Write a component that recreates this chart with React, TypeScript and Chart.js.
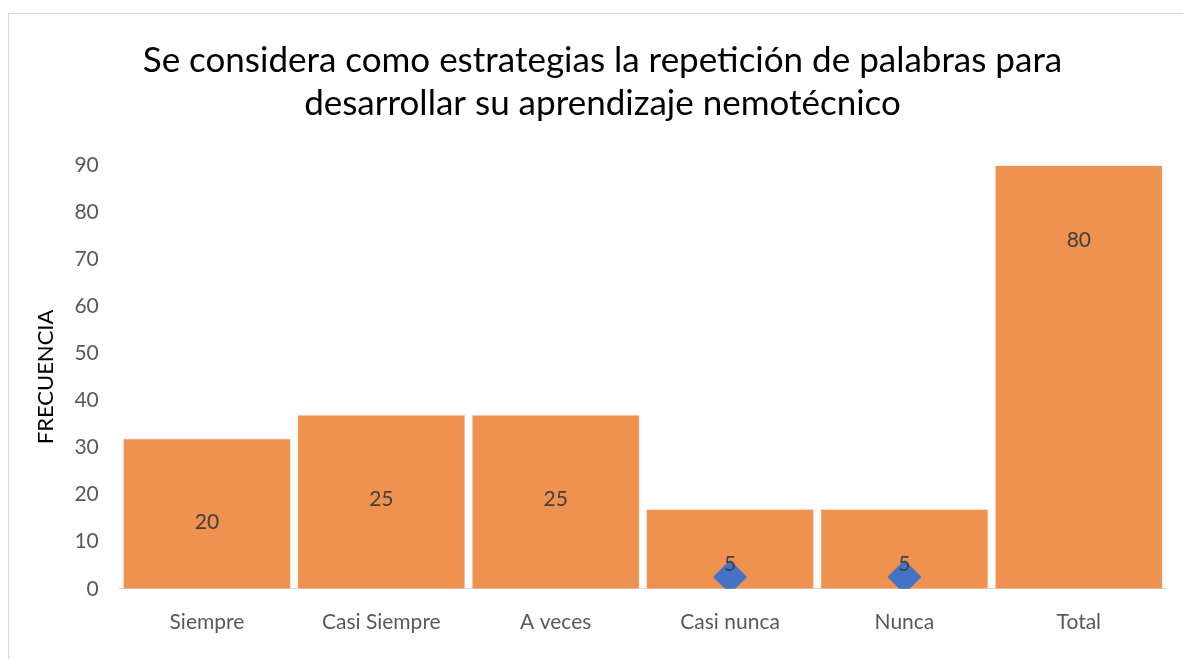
import React, { useEffect, useRef } from 'react';
import Chart from 'chart.js/auto';

const TITLE_LINES = [
  'Se considera como estrategias la repetición de palabras para',
  'desarrollar su aprendizaje nemotécnico',
];
const CATEGORIES = ['Siempre', 'Casi Siempre', 'A veces', 'Casi nunca', 'Nunca', 'Total'];
const BAR_VALUES = [32, 37, 37, 17, 17, 90];
const LABEL_VALUES = [20, 25, 25, 5, 5, 80];
const MARKER_VALUES = [null, null, null, 2.5, 2.5, null];
const Y_AXIS_TITLE = 'FRECUENCIA';
const Y_MAX = 90;
const Y_STEP = 10;

const FONT = 'Lato, "Open Sans", sans-serif';

const labelPlugin = {
  id: 'valueLabels',
  afterDatasetsDraw(chart: any) {
    const { ctx, scales } = chart;
    const xs = scales.x;
    const ys = scales.y;
    ctx.save();
    ctx.font = `21px ${FONT}`;
    ctx.fillStyle = '#404040';
    ctx.textAlign = 'center';
    ctx.textBaseline = 'middle';
    LABEL_VALUES.forEach((v, i) => {
      const x = xs.getPixelForValue(i);
      const m = MARKER_VALUES[i];
      const y = m != null ? ys.getPixelForValue(m) - 13 : ys.getPixelForValue(v) + 28;
      ctx.fillText(String(v), x, y);
    });
    ctx.restore();
  },
};

export default function App() {
  const ref = useRef<HTMLCanvasElement | null>(null);
  useEffect(() => {
    document.body.style.overflow = 'hidden';
    const chart = new Chart(ref.current as HTMLCanvasElement, {
      type: 'bar',
      data: {
        labels: CATEGORIES,
        datasets: [
          {
            type: 'line',
            data: MARKER_VALUES as any,
            showLine: false,
            pointStyle: 'rectRot',
            pointRadius: 17,
            pointBackgroundColor: '#4472C4',
            pointBorderColor: '#4472C4',
            pointBorderWidth: 0,
            order: 0,
          } as any,
          {
            type: 'bar',
            data: BAR_VALUES,
            backgroundColor: '#EF914F',
            borderColor: 'rgba(255,240,230,0.9)',
            borderWidth: 1,
            barPercentage: 0.966,
            categoryPercentage: 1,
            order: 1,
          },
        ],
      },
      options: {
        responsive: false,
        animation: false,
        layout: { padding: { left: 24, right: 11, top: 0, bottom: 3 } },
        plugins: {
          legend: { display: false },
          tooltip: { enabled: false },
          title: {
            display: true,
            text: TITLE_LINES,
            color: '#000000',
            font: { family: FONT, size: 35, weight: 'normal', lineHeight: 1.23 },
            padding: { top: 25, bottom: 40 },
          },
        },
        scales: {
          x: {
            grid: { display: false, drawTicks: false },
            border: { display: true, color: '#D9D9D9', width: 1 },
            ticks: { color: '#595959', font: { family: FONT, size: 21 }, padding: 21 },
          },
          y: {
            min: 0,
            max: Y_MAX,
            grid: { display: false, drawTicks: false },
            border: { display: false },
            ticks: { stepSize: Y_STEP, color: '#595959', font: { family: FONT, size: 21 }, padding: 21 },
            title: {
              display: true,
              text: Y_AXIS_TITLE,
              color: '#000000',
              font: { family: FONT, size: 22 },
              padding: { top: 0, bottom: -6 },
            },
          },
        },
      },
      plugins: [labelPlugin],
    });
    return () => chart.destroy();
  }, []);
  return (
    <div
      style={{
        position: 'absolute',
        left: 8,
        top: 13,
        width: 1175,
        height: 646,
        borderLeft: '1px solid #D9D9D9',
        borderTop: '1px solid #D9D9D9',
        boxSizing: 'border-box',
      }}
    >
      <canvas ref={ref} width={1174} height={645} style={{ display: 'block' }} />
    </div>
  );
}
